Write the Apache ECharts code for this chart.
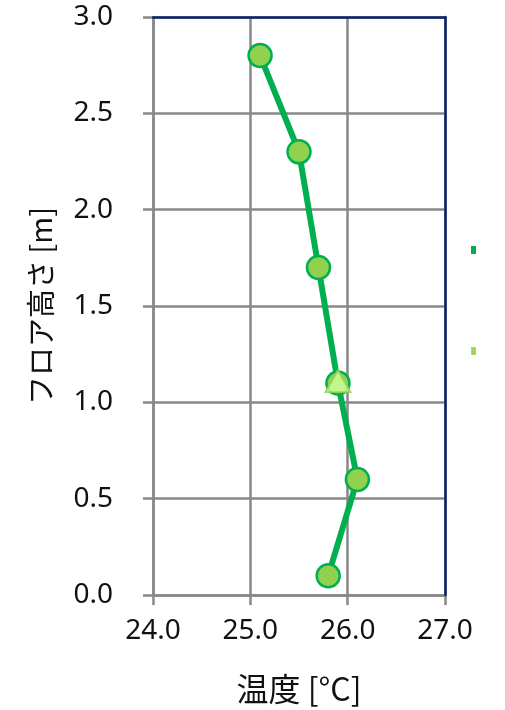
<!DOCTYPE html>
<html>
<head>
<meta charset="utf-8">
<script src="https://cdn.jsdelivr.net/npm/echarts@6/dist/echarts.min.js"></script>
<style>
  html, body { margin: 0; padding: 0; background: #fff; }
  #chart { width: 505px; height: 710px; }
</style>
</head>
<body>
<div id="chart"></div>
<script>
// Floor-height temperature profile
const heights = [2.8, 2.3, 1.7, 1.1, 0.6, 0.1];          // m
const temps = [25.1, 25.5, 25.7, 25.9, 26.1, 25.8];      // °C
const refHeight = [1.1];
const refTemp = [25.9];
const xTicks = [24, 25, 26, 27];
const yTicks = [0, 0.5, 1, 1.5, 2, 2.5, 3];

const FONT = '"Noto Sans", "Noto Sans CJK JP", sans-serif';
const CJK = '"Noto Sans CJK JP", "Noto Sans", sans-serif';
const GRAY = '#888';
const NAVY = '#0a2468';
const chart = echarts.init(document.getElementById('chart'), null, { renderer: 'canvas' });

const profile = temps.map((t, i) => [t, heights[i]]);
const ref = refTemp.map((t, i) => [t, refHeight[i]]);

const xMin = xTicks[0], xMax = xTicks[xTicks.length - 1];
const yMin = yTicks[0], yMax = yTicks[yTicks.length - 1];

// plain frame axes for the top and right edges
const frameAxis = {
  type: 'value',
  axisLine: { show: true, onZero: false, lineStyle: { color: NAVY, width: 2.5 } },
  axisTick: { show: false }, axisLabel: { show: false }, splitLine: { show: false },
  z: 5
};

chart.setOption({
  animation: false,
  grid: { left: 153, right: 60, top: 17, bottom: 114 },
  legend: {
    right: 24, top: 241, orient: 'vertical', itemGap: 93,
    itemWidth: 3, itemHeight: 6, icon: 'rect',
    formatter: () => '',
    textStyle: { fontSize: 1 },
    data: [
      { name: 'profile', itemStyle: { color: '#00B050' } },
      { name: 'ref', itemStyle: { color: '#92D050' } }
    ]
  },
  xAxis: [
    {
      type: 'value',
      min: xMin, max: xMax, interval: 1,
      name: '温度 [°C]', nameLocation: 'middle', nameGap: 78,
      nameTextStyle: { fontFamily: CJK, fontSize: 32, color: '#111' },
      axisLine: { show: true, onZero: false, lineStyle: { color: GRAY, width: 2.5 } },
      axisTick: { show: true, length: 10, inside: false, lineStyle: { color: GRAY, width: 2.5 } },
      splitLine: { show: true, lineStyle: { color: GRAY, width: 2.5 } },
      axisLabel: {
        margin: 22, fontFamily: FONT, fontSize: 28, color: '#111',
        formatter: v => v.toFixed(1)
      }
    },
    Object.assign({ position: 'top', min: xMin, max: xMax }, frameAxis)
  ],
  yAxis: [
    {
      type: 'value',
      min: yMin, max: yMax, interval: 0.5,
      name: 'フロア高さ [m]', nameLocation: 'middle', nameGap: 98, nameRotate: 90,
      nameTextStyle: { fontFamily: CJK, fontSize: 29, color: '#111' },
      axisLine: { show: true, onZero: false, lineStyle: { color: GRAY, width: 2.5 } },
      axisTick: { show: true, length: 10, inside: false, lineStyle: { color: GRAY, width: 2.5 } },
      splitLine: { show: true, lineStyle: { color: GRAY, width: 2.5 } },
      axisLabel: {
        margin: 40, fontFamily: FONT, fontSize: 28, color: '#111',
        formatter: v => v.toFixed(1)
      }
    },
    Object.assign({ position: 'right', min: yMin, max: yMax }, frameAxis)
  ],
  series: [
    {
      name: 'profile',
      type: 'line',
      data: profile,
      z: 3,
      lineStyle: { color: '#00B050', width: 6 },
      symbol: 'circle', symbolSize: 23,
      itemStyle: { color: '#92D050', borderColor: '#00B050', borderWidth: 2.5 }
    },
    {
      name: 'ref',
      type: 'scatter',
      data: ref,
      z: 4,
      symbol: 'triangle', symbolSize: [25, 22], symbolOffset: [0, -2],
      itemStyle: { color: '#CCFF99', borderColor: '#92D050', borderWidth: 2 }
    }
  ]
});
</script>
</body>
</html>
